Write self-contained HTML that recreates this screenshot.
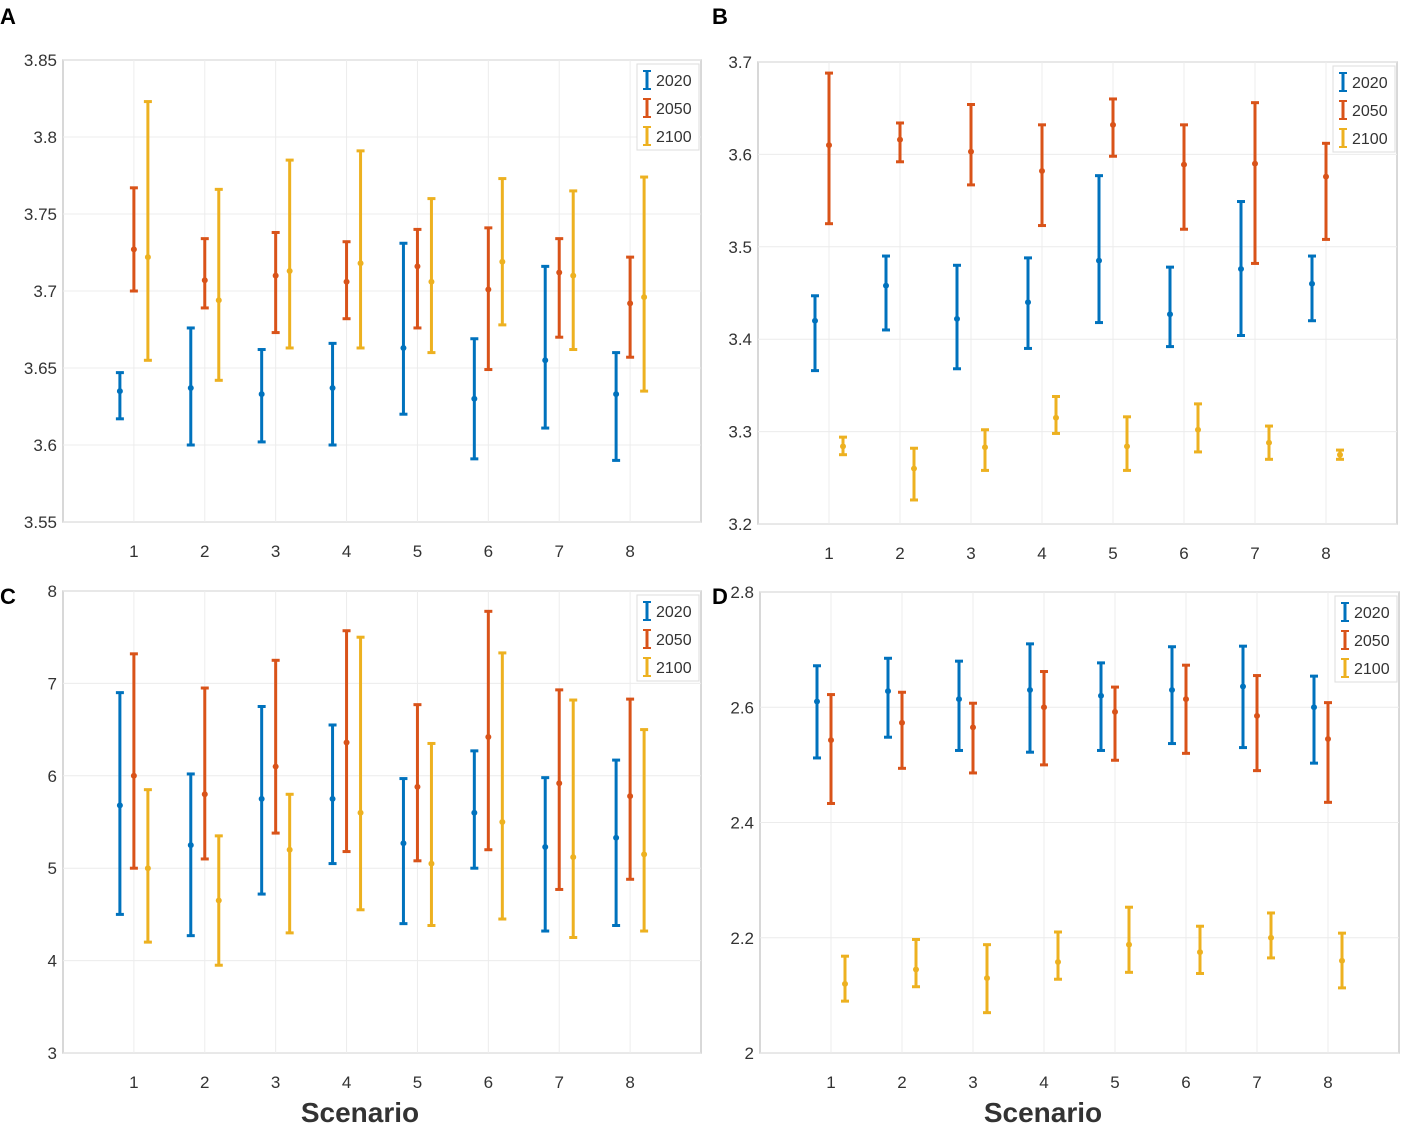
<!DOCTYPE html>
<html><head><meta charset="utf-8"><style>
body{margin:0;background:#fff;}
svg{display:block;font-family:"Liberation Sans",sans-serif;}
</style></head><body>
<svg id="fig" width="1418" height="1140" viewBox="0 0 1418 1140"></svg>
<script>
const categories=[1,2,3,4,5,6,7,8];
const seriesNames=["2020","2050","2100"];
// Panel A
const aMid=[[3.635,3.637,3.633,3.637,3.663,3.630,3.655,3.633],[3.727,3.707,3.710,3.706,3.716,3.701,3.712,3.692],[3.722,3.694,3.713,3.718,3.706,3.719,3.710,3.696]];
const aLow=[[3.617,3.600,3.602,3.600,3.620,3.591,3.611,3.590],[3.700,3.689,3.673,3.682,3.676,3.649,3.670,3.657],[3.655,3.642,3.663,3.663,3.660,3.678,3.662,3.635]];
const aHigh=[[3.647,3.676,3.662,3.666,3.731,3.669,3.716,3.660],[3.767,3.734,3.738,3.732,3.740,3.741,3.734,3.722],[3.823,3.766,3.785,3.791,3.760,3.773,3.765,3.774]];
const aTicks=[3.55,3.6,3.65,3.7,3.75,3.8,3.85];
// Panel B
const bMid=[[3.42,3.458,3.422,3.44,3.485,3.427,3.476,3.46],[3.61,3.616,3.603,3.582,3.632,3.589,3.59,3.576],[3.284,3.26,3.283,3.315,3.284,3.302,3.288,3.275]];
const bLow=[[3.366,3.41,3.368,3.39,3.418,3.392,3.404,3.42],[3.525,3.592,3.567,3.523,3.598,3.519,3.482,3.508],[3.275,3.226,3.258,3.298,3.258,3.278,3.27,3.27]];
const bHigh=[[3.447,3.49,3.48,3.488,3.577,3.478,3.549,3.49],[3.688,3.634,3.654,3.632,3.66,3.632,3.656,3.612],[3.294,3.282,3.302,3.338,3.316,3.33,3.306,3.28]];
const bTicks=[3.2,3.3,3.4,3.5,3.6,3.7];
// Panel C
const cMid=[[5.68,5.25,5.75,5.75,5.27,5.6,5.23,5.33],[6.0,5.8,6.1,6.36,5.88,6.42,5.92,5.78],[5.0,4.65,5.2,5.6,5.05,5.5,5.12,5.15]];
const cLow=[[4.5,4.27,4.72,5.05,4.4,5.0,4.32,4.38],[5.0,5.1,5.38,5.18,5.08,5.2,4.77,4.88],[4.2,3.95,4.3,4.55,4.38,4.45,4.25,4.32]];
const cHigh=[[6.9,6.02,6.75,6.55,5.97,6.27,5.98,6.17],[7.32,6.95,7.25,7.57,6.77,7.78,6.93,6.83],[5.85,5.35,5.8,7.5,6.35,7.33,6.82,6.5]];
const cTicks=[3,4,5,6,7,8];
// Panel D
const dMid=[[2.61,2.628,2.614,2.63,2.62,2.63,2.636,2.6],[2.543,2.573,2.565,2.6,2.592,2.614,2.585,2.545],[2.12,2.145,2.13,2.158,2.188,2.175,2.2,2.16]];
const dLow=[[2.512,2.548,2.525,2.522,2.525,2.537,2.53,2.503],[2.433,2.494,2.486,2.5,2.508,2.52,2.49,2.435],[2.09,2.115,2.07,2.128,2.14,2.138,2.165,2.113]];
const dHigh=[[2.672,2.685,2.68,2.71,2.677,2.705,2.706,2.654],[2.622,2.626,2.607,2.662,2.635,2.673,2.655,2.608],[2.168,2.197,2.188,2.21,2.253,2.22,2.243,2.208]];
const dTicks=[2,2.2,2.4,2.6,2.8];

const colors=["#0072BD","#D95319","#EDB120"];
const NS="http://www.w3.org/2000/svg";
const svg=document.getElementById("fig");
function mk(tag,attrs,parent,text){const e=document.createElementNS(NS,tag);for(const k in attrs)e.setAttribute(k,attrs[k]);if(text!==undefined)e.textContent=text;parent.appendChild(e);return e;}

function panel(id,letter,box,ymin,ymax,ticks,mid,low,high,scenarioX){
  const g=mk("g",{},svg);
  
  
  const [L,T,R,B]=box;
  const x=v=>L+(R-L)*v/9;
  const y=v=>B-(B-T)*(v-ymin)/(ymax-ymin);
  const lt=mk("text",{x:letter[0],y:letter[1],"font-size":22,"font-weight":"bold",fill:"#000"},g,id);
  
  
  mk("rect",{x:L,y:T,width:R-L,height:B-T,fill:"#fff",stroke:"#ccc","stroke-width":1.5},g);
  ticks.forEach(t=>{
    const gl=mk("line",{x1:L,x2:R,y1:y(t),y2:y(t),stroke:"#ececec","stroke-width":1},g);
    
    
    const tl=mk("text",{x:L-6,y:y(t)+6,"text-anchor":"end","font-size":17,fill:"#333"},g,String(t));
    
    
  });
  categories.forEach(c=>{
    const gl=mk("line",{x1:x(c),x2:x(c),y1:T,y2:B,stroke:"#ececec","stroke-width":1},g);
    
    
    const tl=mk("text",{x:x(c),y:B+35,"text-anchor":"middle","font-size":17,fill:"#333"},g,String(c));
    
    
  });
  mid.forEach((arr,s)=>{
    const off=(s-1)*14;
    arr.forEach((m,i)=>{
      const cx=x(categories[i])+off;
      const eg=mk("g",{stroke:colors[s],"stroke-width":3,fill:colors[s]},g);
      
      
      mk("line",{x1:cx,x2:cx,y1:y(low[s][i]),y2:y(high[s][i])},eg);
      mk("line",{x1:cx-4,x2:cx+4,y1:y(low[s][i]),y2:y(low[s][i])},eg);
      mk("line",{x1:cx-4,x2:cx+4,y1:y(high[s][i]),y2:y(high[s][i])},eg);
      mk("circle",{cx:cx,cy:y(m),r:2.5,"stroke-width":1},eg);
    });
  });
  const lg=mk("g",{},g);
  
  
  const lx=R-64,ly=T+4;
  mk("rect",{x:lx,y:ly,width:62,height:86,fill:"#fff",stroke:"#ddd"},lg);
  seriesNames.forEach((n,s)=>{
    const yy=ly+16+s*28;
    const e=mk("g",{},lg);
    
    
    mk("line",{x1:lx+10,x2:lx+10,y1:yy-9,y2:yy+9,stroke:colors[s],"stroke-width":3},e);
    mk("line",{x1:lx+6,x2:lx+14,y1:yy-9,y2:yy-9,stroke:colors[s],"stroke-width":2},e);
    mk("line",{x1:lx+6,x2:lx+14,y1:yy+9,y2:yy+9,stroke:colors[s],"stroke-width":2},e);
    mk("text",{x:lx+19,y:yy+6,"font-size":16,fill:"#333"},e,n);
  });
  if(scenarioX){
    const st=mk("text",{x:scenarioX,y:B+69,"text-anchor":"middle","font-size":28,"font-weight":"bold",fill:"#333"},g,"Scenario");
    
    
  }
}
panel("A",[0,24],[63,60,701,522],3.55,3.85,aTicks,aMid,aLow,aHigh,0);
panel("B",[712,24],[758,62,1397,524],3.2,3.7,bTicks,bMid,bLow,bHigh,0);
panel("C",[0,604],[63,591,701,1053],3,8,cTicks,cMid,cLow,cHigh,360);
panel("D",[712,604],[760,592,1399,1053],2,2.8,dTicks,dMid,dLow,dHigh,1043);
</script>
</body></html>
